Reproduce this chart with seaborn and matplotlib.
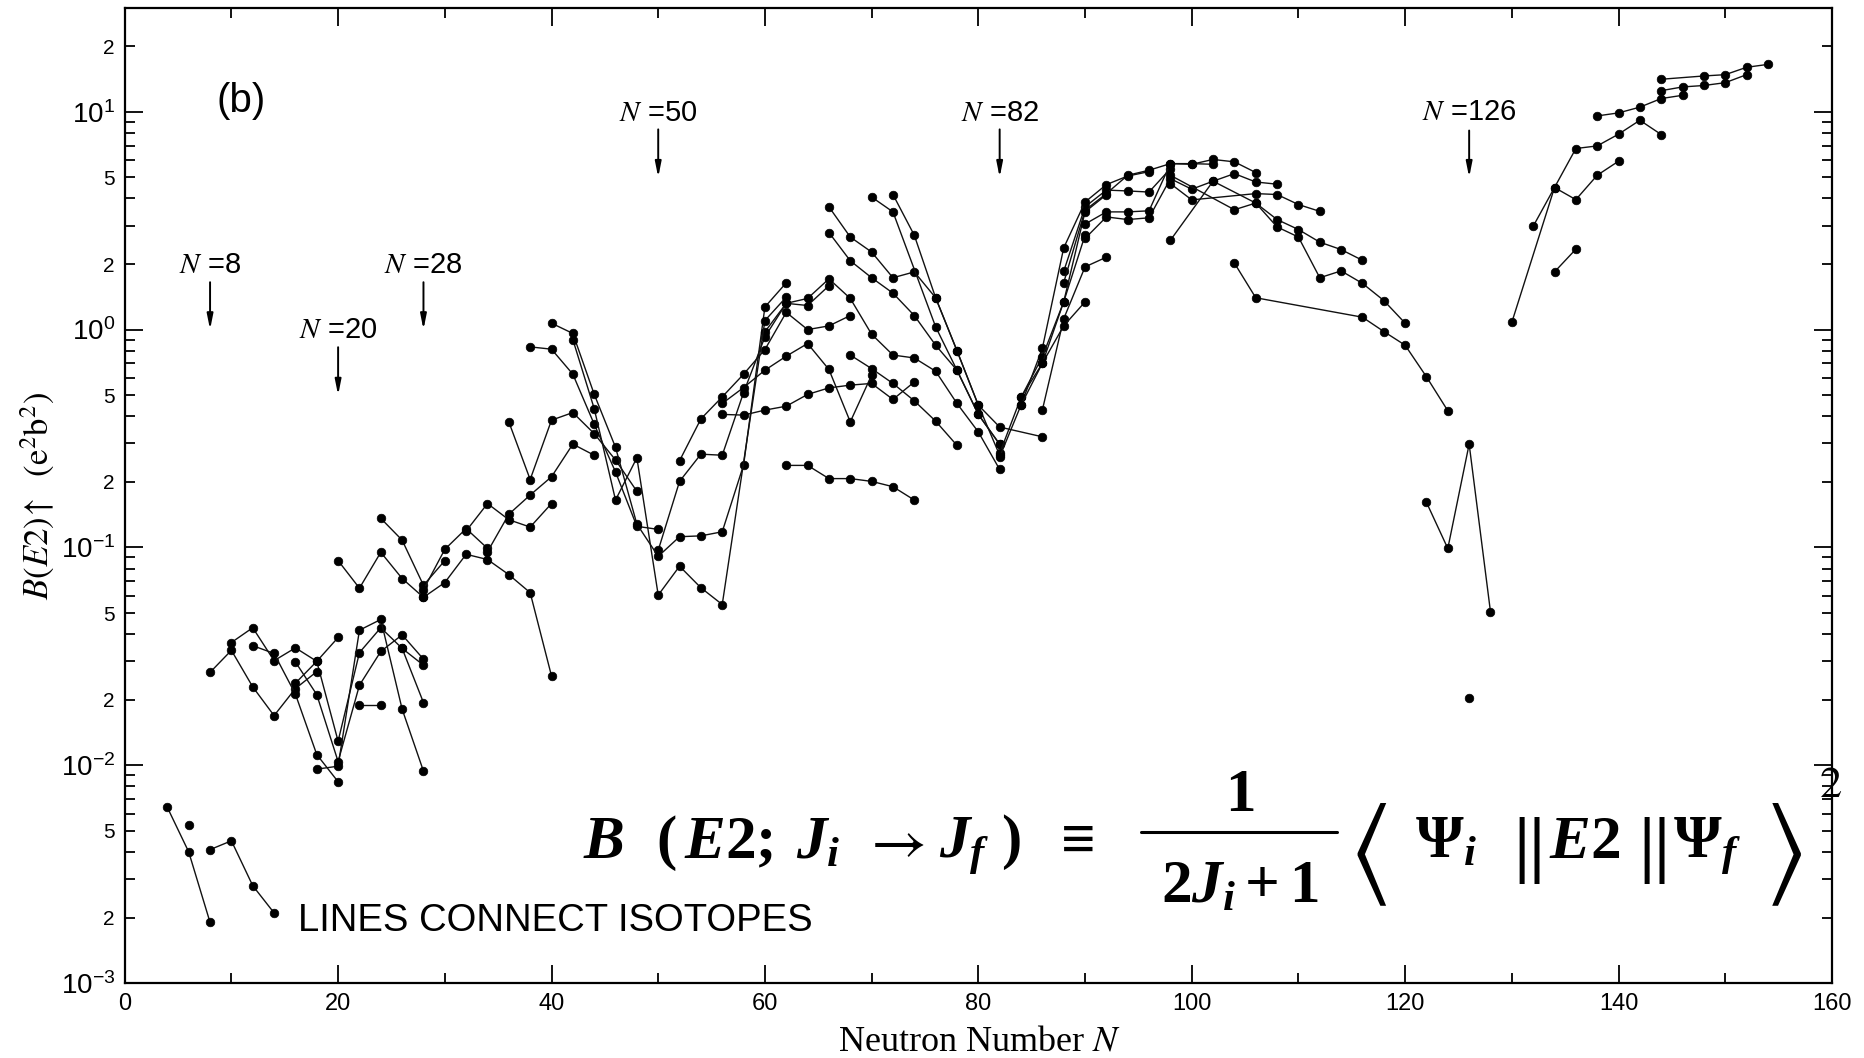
import numpy as np
import pandas as pd
import matplotlib
matplotlib.use('Agg')
import matplotlib.pyplot as plt
from matplotlib.lines import Line2D
import seaborn as sns
from matplotlib.ticker import LogLocator, FuncFormatter, MultipleLocator

# ---------------- data: isotope chains (N, B(E2) in e^2 b^2) ----------------
be_N = [6];                 be_B = [0.0053]
c_N = [4, 6, 8];            c_B = [0.0064, 0.0040, 0.0019]
o_N = [8, 10, 12, 14];      o_B = [0.0041, 0.0045, 0.0028, 0.0021]
ne_N = [8, 10, 12, 14, 16, 18]; ne_B = [0.0267, 0.0337, 0.0229, 0.0169, 0.0225, 0.0269]
mg_N = [10, 12, 14, 16, 18, 20]; mg_B = [0.0366, 0.0428, 0.0302, 0.0346, 0.0300, 0.0386]
si_N = [12, 14, 16, 18, 20];    si_B = [0.0354, 0.0326, 0.0212, 0.0112, 0.0084]
si2_N = [22, 24];               si2_B = [0.0189, 0.0189]
s_N = [16, 18, 20, 22, 24, 26, 28]; s_B = [0.0298, 0.0211, 0.0104, 0.0233, 0.0333, 0.0397, 0.0307]
ar_N = [16, 18, 20, 22, 24, 26, 28]; ar_B = [0.0238, 0.0300, 0.0129, 0.0329, 0.0428, 0.0344, 0.0194]
cl_N = [26, 28];                cl_B = [0.0344, 0.0288]
ca_N = [18, 20, 22, 24, 26, 28]; ca_B = [0.0096, 0.0099, 0.0417, 0.0467, 0.0181, 0.0094]
ti_N = [20, 22, 24, 26, 28];    ti_B = [0.087, 0.065, 0.095, 0.072, 0.059]
cr_N = [24, 26, 28, 30];        cr_B = [0.136, 0.108, 0.067, 0.087]
fe_N = [28, 30, 32, 34];        fe_B = [0.064, 0.098, 0.122, 0.099]
ni_N = [28, 30, 32, 34, 36, 38, 40]; ni_B = [0.059, 0.069, 0.093, 0.088, 0.075, 0.062, 0.0257]
zn_N = [32, 34, 36, 38, 40];    zn_B = [0.119, 0.159, 0.134, 0.124, 0.159]
ge_N = [34, 36, 38, 40, 42, 44]; ge_B = [0.0955, 0.142, 0.174, 0.211, 0.298, 0.265]
se_N = [36, 38, 40, 42, 44, 46, 48]; se_B = [0.377, 0.205, 0.384, 0.416, 0.333, 0.252, 0.181]
kr_N = [38, 40, 42, 44, 46, 48, 50]; kr_B = [0.833, 0.813, 0.624, 0.368, 0.222, 0.125, 0.121]
sr_N = [40, 42, 44, 46, 48, 50, 52, 54, 56, 58, 60, 62]
sr_B = [1.07, 0.96, 0.505, 0.288, 0.128, 0.091, 0.112, 0.113, 0.118, 0.239, 1.27, 1.64]
zr_N = [42, 44, 46, 48, 50, 52, 54, 56, 60, 62]
zr_B = [0.90, 0.434, 0.165, 0.258, 0.0604, 0.082, 0.0653, 0.0547, 1.10, 1.41]
mo_N = [50, 52, 54, 56, 58, 60, 62, 64, 66]
mo_B = [0.097, 0.201, 0.268, 0.265, 0.514, 0.926, 1.32, 1.29, 1.59]
ru_N = [52, 54, 56, 58, 60, 62, 64, 66, 68]
ru_B = [0.250, 0.389, 0.491, 0.624, 0.81, 1.20, 1.00, 1.04, 1.16]
pd_N = [56, 58, 60, 62, 64, 66, 68, 70]
pd_B = [0.458, 0.542, 0.651, 0.755, 0.863, 0.656, 0.377, 0.618]
cd_N = [56, 58, 60, 62, 64, 66, 68, 70, 72, 74]
cd_B = [0.408, 0.405, 0.427, 0.445, 0.504, 0.54, 0.556, 0.566, 0.478, 0.575]
sn_N = [62, 64, 66, 68, 70, 72, 74]; sn_B = [0.238, 0.238, 0.207, 0.207, 0.201, 0.190, 0.165]
te_N = [68, 70, 72, 74, 76, 78];    te_B = [0.764, 0.662, 0.566, 0.471, 0.38, 0.294]
xe_N = [60, 62, 64, 66, 68, 70, 72, 74, 76, 78, 80, 82]
xe_B = [0.977, 1.32, 1.39, 1.71, 1.39, 0.952, 0.764, 0.741, 0.644, 0.458, 0.339, 0.228]
ba_N = [66, 68, 70, 72, 74, 76, 78, 80, 82]
ba_B = [2.79, 2.07, 1.73, 1.47, 1.16, 0.848, 0.651, 0.408, 0.297]
ce_N = [66, 68, 70, 72, 74, 76, 78, 80, 82]
ce_B = [3.66, 2.66, 2.27, 1.73, 1.84, 1.40, 0.80, 0.45, 0.265]
pr_N = [72, 74, 76, 78, 80, 82, 86]; pr_B = [4.17, 2.71, 1.40, 0.80, 0.45, 0.357, 0.322]
la_N = [70, 72, 76, 78, 80, 82];     la_B = [4.06, 3.47, 1.03, 0.651, 0.408, 0.298]
nd_N = [82, 84, 86, 88, 90];         nd_B = [0.270, 0.488, 0.750, 1.34, 2.71]
sm_N = [82, 84, 86, 88, 90, 92];     sm_B = [0.260, 0.450, 0.700, 1.34, 3.47, 4.16]
lo1_N = [86, 88, 90, 92];            lo1_B = [0.427, 1.12, 1.94, 2.15]
lo2_N = [84, 86, 88, 90];            lo2_B = [0.488, 0.70, 1.04, 1.34]
gd_N = [84, 86, 88, 90, 92, 94, 96]; gd_B = [0.450, 0.820, 2.37, 3.85, 4.63, 5.07, 5.31]
dy_N = [88, 90, 92, 94, 96, 98];     dy_B = [1.85, 3.66, 4.37, 4.33, 4.28, 5.48]
er_N = [88, 90, 92, 94, 96, 98, 100, 102]
er_B = [1.64, 3.53, 4.21, 5.11, 5.39, 5.78, 5.78, 5.74]
yb_N = [90, 92, 94, 96, 98, 100, 102, 104, 106]
yb_B = [3.05, 3.47, 3.47, 3.51, 5.78, 5.74, 6.04, 5.89, 5.26]
hf_N = [90, 92, 94, 96, 98, 100, 102, 104, 106, 108]
hf_B = [2.62, 3.29, 3.20, 3.26, 4.93, 4.41, 4.80, 5.20, 4.76, 4.65]
w_N = [98, 100, 106, 108, 110, 112];  w_B = [4.68, 3.94, 4.21, 4.17, 3.75, 3.49]
os_N = [98, 104, 106, 108, 110, 112, 114, 116]
os_B = [5.11, 3.55, 3.81, 3.20, 2.88, 2.52, 2.33, 2.08]
pt_N = [98, 102, 106, 108, 110, 112, 114, 116, 118, 120]
pt_B = [2.57, 4.80, 3.81, 2.96, 2.66, 1.73, 1.86, 1.63, 1.36, 1.07]
hg_N = [104, 106, 116, 118, 120, 122, 124]; hg_B = [2.02, 1.40, 1.14, 0.98, 0.848, 0.607, 0.424]
pb_N = [122, 124, 126, 128];          pb_B = [0.161, 0.0989, 0.298, 0.0506]
po_N = [126];                         po_B = [0.0203]
th_N = [130, 134, 136, 138, 140, 142, 144]; th_B = [1.08, 4.49, 6.78, 6.97, 7.89, 9.14, 7.86]
ra_N = [132, 134, 136, 138, 140];     ra_B = [2.98, 4.49, 3.95, 5.11, 5.93]
rn_N = [134, 136];                    rn_B = [1.84, 2.34]
u1_N = [138, 140, 142, 144, 146];     u1_B = [9.57, 9.88, 10.5, 11.5, 11.9]
pu_N = [144, 146, 148, 150, 152];     pu_B = [12.5, 13.0, 13.2, 13.6, 14.8]
cm_N = [144, 148, 150, 152, 154];     cm_B = [14.1, 14.6, 14.8, 16.0, 16.5]

magic_N = [8, 20, 28, 50, 82, 126]
x_ticks = [0, 20, 40, 60, 80, 100, 120, 140, 160]

chains = [
    ('be', be_N, be_B), ('c', c_N, c_B), ('o', o_N, o_B), ('ne', ne_N, ne_B),
    ('mg', mg_N, mg_B), ('si', si_N, si_B), ('si2', si2_N, si2_B), ('s', s_N, s_B),
    ('ar', ar_N, ar_B), ('cl', cl_N, cl_B), ('ca', ca_N, ca_B), ('ti', ti_N, ti_B),
    ('cr', cr_N, cr_B), ('fe', fe_N, fe_B), ('ni', ni_N, ni_B), ('zn', zn_N, zn_B),
    ('ge', ge_N, ge_B), ('se', se_N, se_B), ('kr', kr_N, kr_B), ('sr', sr_N, sr_B),
    ('zr', zr_N, zr_B), ('mo', mo_N, mo_B), ('ru', ru_N, ru_B), ('pd', pd_N, pd_B),
    ('cd', cd_N, cd_B), ('sn', sn_N, sn_B), ('te', te_N, te_B), ('xe', xe_N, xe_B),
    ('ba', ba_N, ba_B), ('ce', ce_N, ce_B), ('pr', pr_N, pr_B), ('la', la_N, la_B),
    ('nd', nd_N, nd_B), ('sm', sm_N, sm_B), ('lo1', lo1_N, lo1_B), ('lo2', lo2_N, lo2_B),
    ('gd', gd_N, gd_B), ('dy', dy_N, dy_B), ('er', er_N, er_B), ('yb', yb_N, yb_B),
    ('hf', hf_N, hf_B), ('w', w_N, w_B), ('os', os_N, os_B), ('pt', pt_N, pt_B),
    ('hg', hg_N, hg_B), ('pb', pb_N, pb_B), ('po', po_N, po_B), ('th', th_N, th_B),
    ('ra', ra_N, ra_B), ('rn', rn_N, rn_B), ('u1', u1_N, u1_B), ('pu', pu_N, pu_B),
    ('cm', cm_N, cm_B),
]
rows = []
for name, ns, bs in chains:
    for n, b in zip(ns, bs):
        rows.append({'chain': name, 'N': n, 'B': b})
df = pd.DataFrame(rows)

# ---------------- style ----------------
sns.set_style('ticks')
plt.rcParams['font.family'] = ['Liberation Sans', 'DejaVu Sans']
for k in ('text.color', 'axes.labelcolor', 'xtick.color', 'ytick.color', 'axes.edgecolor'):
    plt.rcParams[k] = 'black'
plt.rcParams['mathtext.rm'] = 'Liberation Serif:bold'
plt.rcParams['mathtext.it'] = 'Liberation Serif:italic:bold'
plt.rcParams['mathtext.bf'] = 'Liberation Serif:bold'
plt.rcParams['mathtext.fallback'] = 'stix'

W, H = 1864, 1058
fig = plt.figure(figsize=(W / 100, H / 100), dpi=100)
ax = fig.add_axes([0.0669, 0.0708, 0.9159, 0.9218])
ax.set_yscale('log')

sns.lineplot(data=df, x='N', y='B', units='chain', estimator=None, sort=False,
             color='#111111', lw=1.0, marker='o', markersize=6.2,
             markeredgewidth=0.5, markeredgecolor='#000000', markerfacecolor='#000000',
             ax=ax, legend=False)

ax.set_xlim(0, 160)
ax.set_ylim(1e-3, 30)

ax.xaxis.set_minor_locator(MultipleLocator(10))
ax.set_xticks(x_ticks)
ax.set_xticklabels([str(t) for t in x_ticks])
ax.yaxis.set_major_locator(LogLocator(base=10, numticks=20))
ax.yaxis.set_minor_locator(LogLocator(base=10, subs=np.arange(2, 10), numticks=20))


def major_fmt(v, pos):
    e = int(round(np.log10(v)))
    return r'$\mathregular{10^{%d}}$' % e


def minor_fmt(v, pos):
    e = np.floor(np.log10(v) + 1e-9)
    m = int(round(v / 10 ** e))
    return str(m) if m in (2, 5) else ''


ax.yaxis.set_major_formatter(FuncFormatter(major_fmt))
ax.yaxis.set_minor_formatter(FuncFormatter(minor_fmt))

ax.tick_params(which='both', direction='in', top=True, right=True, width=1.3)
ax.tick_params(which='major', length=13)
ax.tick_params(which='minor', length=7)
ax.tick_params(axis='y', which='major', labelsize=20, pad=7)
ax.tick_params(axis='y', which='minor', labelsize=15, pad=7)
ax.tick_params(axis='x', which='major', labelsize=17, pad=7)
for sp in ax.spines.values():
    sp.set_linewidth(1.6)

ax.set_xlabel(r'Neutron Number $N$', fontsize=26, family='Liberation Serif',
              math_fontfamily='stix')
ax.xaxis.set_label_coords(0.501, -0.043)
ax.set_ylabel(r'$B(E2)\!\uparrow\ \ (\mathrm{e}^2\mathrm{b}^2)$', fontsize=25,
              math_fontfamily='stix')
ax.yaxis.set_label_coords(-0.0395, 0.5)
ax.grid(False)

# magic number markers
lab_y = {8: 1.98, 20: 1.0, 28: 1.98, 50: 9.84, 82: 9.84, 126: 10.0}
arr_top = {8: 1.65, 20: 0.83, 28: 1.65, 50: 8.3, 82: 8.3, 126: 8.2}
arr_bot = {8: 1.0, 20: 0.50, 28: 1.0, 50: 5.0, 82: 5.0, 126: 5.0}
for n in magic_N:
    ax.text(n, lab_y[n], r'$N$ =%d' % n, ha='center', va='center', fontsize=21,
            math_fontfamily='stix')
    ax.annotate('', xy=(n, arr_bot[n]), xytext=(n, arr_top[n]),
                arrowprops=dict(arrowstyle='-|>,head_length=0.9,head_width=0.18',
                                lw=1.4, color='black', shrinkA=0, shrinkB=0))

ax.text(10.9, 11.2, '(b)', ha='center', va='center', fontsize=29)
ax.text(16.2, 0.00192, 'LINES CONNECT ISOTOPES', ha='left', va='center', fontsize=27.5)

# ---------------- formula (typeset in pieces) ----------------
def fx(px):
    return px / W


def fy(py):
    return 1 - py / H


fs = 44
base_y = fy(858)
S = 1.1888  # reference-shrunk to full pixel factor
fig.text(fx(490 * S), base_y, r'$B\ \ (\,E2;\:J_{i}$',
         ha='left', va='baseline', fontsize=fs, math_fontfamily='custom')
fig.text(fx(725 * S), base_y, r'$\rightarrow$', ha='left', va='baseline', fontsize=fs,
         math_fontfamily='stix')
fig.text(fx(790 * S), base_y, r'$J_{f}\ )$', ha='left', va='baseline', fontsize=fs,
         math_fontfamily='custom')
fig.text(fx(884 * S), base_y, r'$\equiv$', ha='left', va='baseline', fontsize=fs,
         math_fontfamily='custom')
fig.text(fx(1043 * S), fy(811), r'$1$', ha='center', va='baseline', fontsize=fs,
         math_fontfamily='custom')
fig.text(fx(1043 * S), fy(903), r'$2J_{i}+1$', ha='center', va='baseline', fontsize=fs,
         math_fontfamily='custom')
fig.add_artist(Line2D([fx(960 * S), fx(1125 * S)], [fy(832), fy(832)], color='black',
                      lw=2.2, transform=fig.transFigure))
fig.text(fx(1150 * S), fy(855), r'$\langle$', ha='center', va='center', fontsize=80,
         math_fontfamily='stix')
fig.text(fx(1190 * S), base_y, r'$\Psi_{i}$', ha='left', va='baseline', fontsize=fs,
         math_fontfamily='custom')
fig.text(fx(1283 * S), fy(850), r'$\Vert$', ha='center', va='center', fontsize=54,
         math_fontfamily='stix')
fig.text(fx(1303 * S), base_y, r'$E2$', ha='left', va='baseline', fontsize=fs,
         math_fontfamily='custom')
fig.text(fx(1388 * S), fy(850), r'$\Vert$', ha='center', va='center', fontsize=54,
         math_fontfamily='stix')
fig.text(fx(1407 * S), base_y, r'$\Psi_{f}$', ha='left', va='baseline', fontsize=fs,
         math_fontfamily='custom')
fig.text(fx(1500 * S), fy(855), r'$\rangle$', ha='center', va='center', fontsize=80,
         math_fontfamily='stix')
fig.text(fx(1530 * S), fy(797), r'$2$', ha='left', va='baseline', fontsize=32,
         math_fontfamily='stix')

fig.savefig('out.png', dpi=100)
